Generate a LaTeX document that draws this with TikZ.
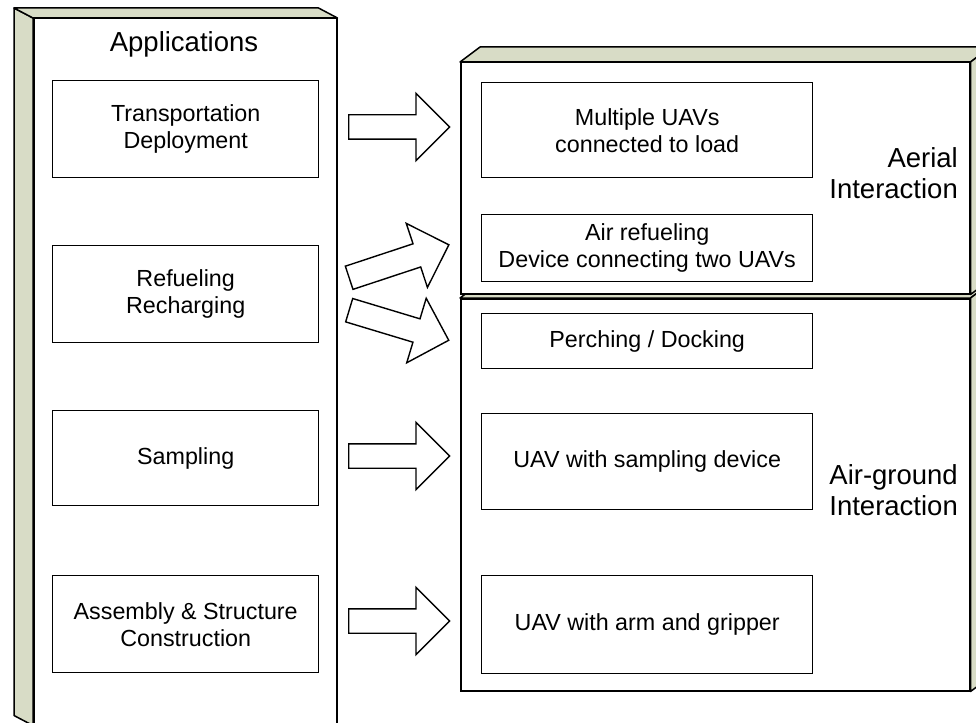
\documentclass[tikz,border=0pt]{standalone}
\usepackage{fontspec}
\setmainfont{Liberation Sans}
\usetikzlibrary{shapes.arrows,calc,positioning}
\definecolor{sideface}{RGB}{216,220,198}
\tikzset{panel/.style={draw, line width=1.5pt, fill=white, inner sep=0pt, anchor=north west}}
\tikzset{face/.style={draw, line width=1.5pt, fill=sideface, line join=round}}
\tikzstyle{box}=[draw, line width=1.4pt, inner sep=2pt, align=center, anchor=north west, font=\fontsize{23.3}{27}\selectfont]
\tikzstyle{header}=[inner sep=0pt, align=right, font=\fontsize{27.5}{31}\selectfont]
\tikzstyle{fat}=[single arrow, draw, line width=1.4pt, fill=white, inner xsep=0pt, inner ysep=11.5pt, single arrow head extend=21.5pt, minimum height=101pt, anchor=tail]

\begin{document}
\begin{tikzpicture}[x=1pt, y=-1pt]
\useasboundingbox (0,0) rectangle (976,722);

% left column
\node[panel, minimum width=303pt, minimum height=706pt] (apps) at (33,18) {};
\fill[face] (apps.north west) -- ++(-19,-10) -- ($(apps.south west)+(-19,-10)$) -- (apps.south west) -- cycle;
\fill[face] (apps.north west) -- ++(-19,-10) -- ($(apps.north east)+(-19,-10)$) -- (apps.north east) -- cycle;
\node[header, anchor=base] (appsTitle) at (184,52) {Applications};

% right column, lower block first
\node[panel, minimum width=509pt, minimum height=392pt] (ground) at (460,298) {};
\fill[face] (ground.north west) -- ++(20,-15) -- ($(ground.north east)+(20,-15)$) -- (ground.north east) -- cycle;
\fill[face] (ground.north east) -- ++(20,-15) -- ($(ground.south east)+(20,-15)$) -- (ground.south east) -- cycle;
\node[panel, minimum width=509pt, minimum height=231pt] (air) at (460,62) {};
\fill[face] (air.north west) -- ++(20,-15) -- ($(air.north east)+(20,-15)$) -- (air.north east) -- cycle;
\fill[face] (air.north east) -- ++(20,-15) -- ($(air.south east)+(20,-15)$) -- (air.south east) -- cycle;
\node[header, anchor=east] (airTitle) at (958,173) {Aerial\\Interaction};
\node[header, anchor=east] (groundTitle) at (958,490) {Air-ground\\Interaction};

% applications
\node[box, minimum width=266pt, minimum height=97pt] (trans) at (52,80) {Transportation\\Deployment};
\node[box, minimum width=266pt, minimum height=97pt] (refuel) at (52,245) {Refueling\\Recharging};
\node[box, minimum width=266pt, minimum height=95pt] (samp) at (52,410) {Sampling};
\node[box, minimum width=266pt, minimum height=97pt] (assem) at (52,575) {Assembly \& Structure\\Construction};

% interaction types
\node[box, minimum width=331pt, minimum height=95pt] (multi) at (481,82) {Multiple UAVs\\connected to load};
\node[box, minimum width=331pt, minimum height=67pt] (airref) at (481,214) {Air refueling\\Device connecting two UAVs};
\node[box, minimum width=331pt, minimum height=55pt] (perch) at (481,313) {Perching / Docking};
\node[box, minimum width=331pt, minimum height=96pt] (sampdev) at (481,413) {UAV with sampling device};
\node[box, minimum width=331pt, minimum height=98pt] (grip) at (481,575) {UAV with arm and gripper};

% block arrows
\node[fat] (toMulti) at (348,127) {};
\node[fat, rotate=18.3, minimum height=105pt] (toAirref) at (348.5,278) {};
\node[fat, rotate=-16.8, minimum height=104pt] (toPerch) at (348.5,310) {};
\node[fat] (toSampdev) at (348,456) {};
\node[fat] (toGrip) at (348,621) {};
\end{tikzpicture}
\end{document}
